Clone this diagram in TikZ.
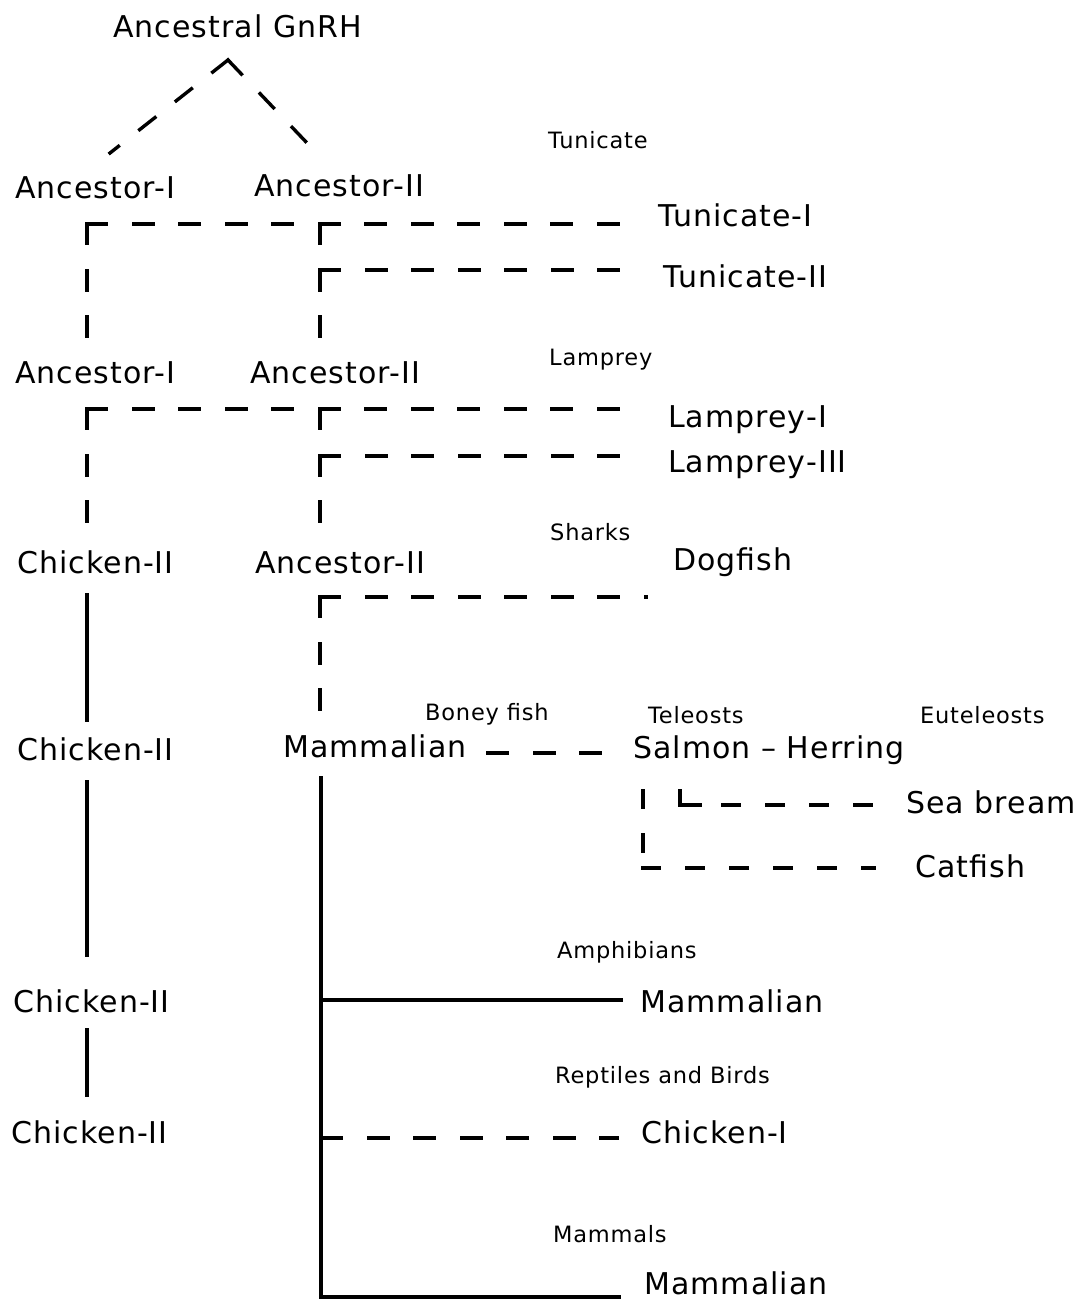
\documentclass[tikz,border=0pt]{standalone}
\usepackage{fontspec}
\setmainfont{DejaVu Sans}[LetterSpace=3.5]
\begin{document}
\begin{tikzpicture}[x=1pt,y=-1pt,
  big/.style={font=\fontsize{30}{36}\selectfont, inner sep=0pt, anchor=base west},
  small/.style={font=\fontsize{22.5}{27}\selectfont, inner sep=0pt, anchor=base west},
  ln/.style={line width=3.4pt, line cap=rect, line join=miter},
  dsh/.style={ln, dash pattern=on 19.5pt off 27pt},
  dshb/.style={ln, dash pattern=on 16pt off 28pt},
]
\useasboundingbox (0,0) rectangle (1078,1302);
% ---------- text nodes ----------
\node[big] (root) at (113,37) {Ancestral GnRH};
\node[big] (a1a) at (15,198) {Ancestor-I};
\node[big] (a2a) at (254,196) {Ancestor-II};
\node[small] (lTun) at (548,148) {Tunicate};
\node[big] (tun1) at (658,226) {Tunicate-I};
\node[big] (tun2) at (663,287) {Tunicate-II};
\node[big] (a1b) at (15,383) {Ancestor-I};
\node[big] (a2b) at (250,383) {Ancestor-II};
\node[small] (lLam) at (549,365) {Lamprey};
\node[big] (lam1) at (668,427) {Lamprey-I};
\node[big] (lam3) at (668,472) {Lamprey-III};
\node[small] (lSha) at (550,540) {Sharks};
\node[big] (dog) at (673,570) {Dogfish};
\node[big] (ch3) at (17,573) {Chicken-II};
\node[big] (a2c) at (255,573) {Ancestor-II};
\node[small] (lBon) at (425,720) {Boney fish};
\node[small] (lTel) at (648,723) {Teleosts};
\node[small] (lEut) at (920,723) {Euteleosts};
\node[big] (ch4) at (17,760) {Chicken-II};
\node[big] (mam0) at (283,757) {Mammalian};
\node[big] (sal) at (633,758) {Salmon – Herring};
\node[big] (sea) at (906,813) {Sea bream};
\node[big] (cat) at (915,877) {Catfish};
\node[small] (lAmp) at (557,958) {Amphibians};
\node[big] (mam1) at (640,1012) {Mammalian};
\node[big] (ch5) at (13,1012) {Chicken-II};
\node[small] (lRep) at (555,1083) {Reptiles and Birds};
\node[big] (chI) at (641,1143) {Chicken-I};
\node[big] (ch6) at (11,1143) {Chicken-II};
\node[small] (lMam) at (553,1242) {Mammals};
\node[big] (mam2) at (644,1294) {Mammalian};
% ---------- coordinates ----------
\coordinate (apex) at (228,60);
\coordinate (dl) at (110,153);
\coordinate (dr) at (308,144);
% block 1
\coordinate (a1c) at (87,224);  \coordinate (a1e) at (87,340);
\coordinate (t1e) at (622,224);
\coordinate (b1c) at (320,224); \coordinate (b1e) at (320,340);
\coordinate (b1k) at (320,270); \coordinate (t2e) at (620,270);
% block 2
\coordinate (a2cc) at (87,409); \coordinate (a2ce) at (87,526);
\coordinate (l1e) at (622,409);
\coordinate (b2c) at (320,409); \coordinate (b2e) at (320,526);
\coordinate (b2k) at (320,456); \coordinate (l3e) at (620,456);
% block 3
\coordinate (c3s) at (87,595); \coordinate (c3e) at (87,720);
\coordinate (b3c) at (320,597); \coordinate (b3e) at (320,712);
\coordinate (dge) at (646,597);
% boney fish
\coordinate (bf1) at (488,753); \coordinate (bf2) at (605,753);
\coordinate (sv1) at (643,791); \coordinate (sv2) at (643,853);
\coordinate (ch1) at (643,868); \coordinate (ch2) at (874,868);
\coordinate (sb1) at (680,791); \coordinate (sb2) at (680,805);
\coordinate (sb3) at (700,805); \coordinate (sb4) at (723,805);
\coordinate (sb5) at (876,805);
% lower
\coordinate (c4s) at (87,782); \coordinate (c4e) at (87,955);
\coordinate (c5s) at (87,1030); \coordinate (c5e) at (87,1095);
\coordinate (mv1) at (321,778); \coordinate (mv2) at (321,1297);
\coordinate (am1) at (321,1000); \coordinate (am2) at (621,1000);
\coordinate (rb1) at (322,1138); \coordinate (rb2) at (617,1138);
\coordinate (mm2) at (619,1297);
% ---------- connectors ----------
\draw[dsh] (apex) -- (dl);
\draw[dsh] (apex) -- (dr);
\draw[dsh] (a1c) -- (t1e);
\draw[dsh] (a1c) -- (a1e);
\draw[dsh] (b1c) -- (b1e);
\draw[dsh] (b1k) -- (t2e);
\draw[dsh] (a2cc) -- (l1e);
\draw[dsh] (a2cc) -- (a2ce);
\draw[dsh] (b2c) -- (b2e);
\draw[dsh] (b2k) -- (l3e);
\draw[ln] (c3s) -- (c3e);
\draw[dsh] (b3c) -- (dge);
\draw[dsh] (b3c) -- (b3e);
\draw[dsh] (bf1) -- (bf2);
\draw[dshb] (sv1) -- (sv2);
\draw[dshb] (ch1) -- (ch2);
\draw[ln] (sb1) -- (sb2) -- (sb3);
\draw[dshb] (sb4) -- (sb5);
\draw[ln] (c4s) -- (c4e);
\draw[ln] (c5s) -- (c5e);
\draw[ln] (mv1) -- (mv2) -- (mm2);
\draw[ln] (am1) -- (am2);
\draw[dsh] (rb1) -- (rb2);
\end{tikzpicture}
\end{document}
